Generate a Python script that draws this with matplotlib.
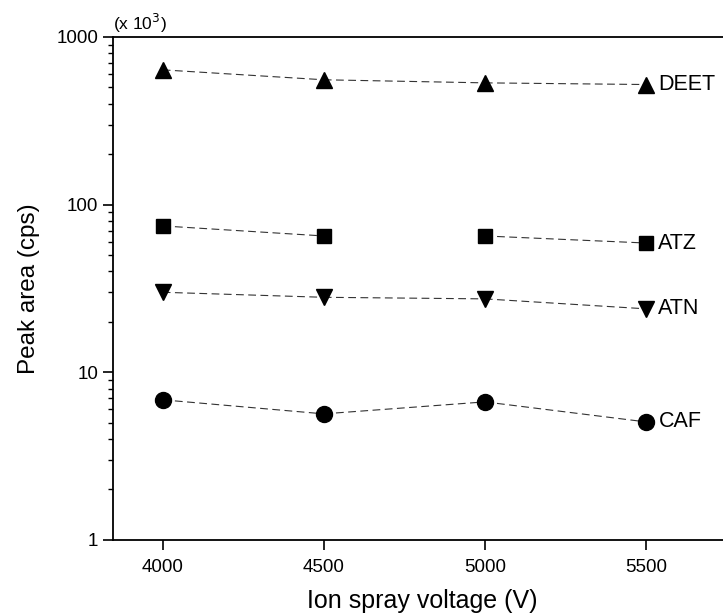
import matplotlib
matplotlib.use("Agg")
import matplotlib.pyplot as plt
from matplotlib.ticker import LogLocator, NullFormatter, FixedLocator

plt.rcParams['font.family'] = ['Liberation Sans', 'DejaVu Sans']

# data (x 10^3 cps)
voltage = [4000, 4500, 5000, 5500]
deet = [636, 555, 532, 520]
atz = [74.6, 65, 65, 59]
atn = [30, 28, 27.4, 23.9]
caf = [6.85, 5.65, 6.66, 5.06]
names = ["DEET", "ATZ", "ATN", "CAF"]
series = [deet, atz, atn, caf]
markers = ["^", "s", "v", "o"]
msizes = [12, 10, 12, 11.5]
# which segments between neighbouring points are drawn
segs = [[1, 1, 1], [1, 0, 1], [1, 1, 1], [1, 1, 1]]

fig = plt.figure(figsize=(7.23, 6.15), dpi=100)
# the original plot is cropped on the right, so the axes run past the edge
ax = fig.add_axes([0.156, 0.122, 0.855, 0.818])

for name, vals, mk, ms, sg in zip(names, series, markers, msizes, segs):
    for i in range(len(voltage) - 1):
        if sg[i]:
            ax.plot(voltage[i:i + 2], vals[i:i + 2], ls=(0, (7, 4)), lw=0.8,
                    color="#333333", zorder=1)
    ax.plot(voltage, vals, ls="none", marker=mk, ms=ms, color="black", zorder=2)
    ax.annotate(name, (voltage[-1], vals[-1]), xytext=(9, 0),
                textcoords="offset points", va="center", ha="left", fontsize=15.5)

ax.set_yscale("log")
ax.set_ylim(1, 1000)
ax.set_xlim(3845, 5764)
ax.xaxis.set_major_locator(FixedLocator(voltage))
ax.yaxis.set_major_locator(FixedLocator([1, 10, 100, 1000]))
ax.set_yticklabels(["1", "10", "100", "1000"])
ax.yaxis.set_minor_locator(LogLocator(base=10, subs=range(2, 10)))
ax.yaxis.set_minor_formatter(NullFormatter())
ax.tick_params(axis="both", which="major", direction="out", length=7, width=1.2,
               labelsize=13.5)
ax.tick_params(axis="x", which="major", pad=7)
ax.tick_params(axis="y", which="minor", direction="out", length=3.5, width=1)
ax.spines["right"].set_visible(False)
for s in ["left", "bottom", "top"]:
    ax.spines[s].set_linewidth(1.3)

ax.set_xlabel("Ion spray voltage (V)", fontsize=18, labelpad=9)
ax.set_ylabel("Peak area (cps)", fontsize=17.5, labelpad=12)
ax.text(0.0, 1.004, r"(x 10$^{3}$)", transform=ax.transAxes, fontsize=12.5,
        ha="left", va="bottom")

fig.savefig("out.png", dpi=100)
